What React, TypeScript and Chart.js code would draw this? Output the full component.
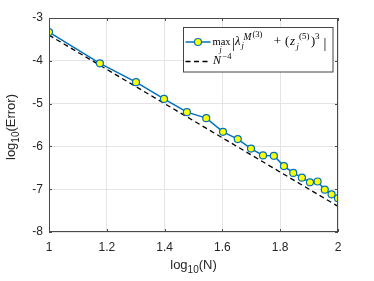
import React, { useEffect, useRef } from "react";
import { Chart, registerables } from "chart.js";

Chart.register(...registerables);

// ---- data ----
const N_VALUES = [10, 15, 20, 25, 30, 35, 40, 45, 50, 55, 60, 65, 70, 75, 80, 85, 90, 95, 100];
const ERROR_LOG10 = [
  -3.33, -4.06, -4.5, -4.89, -5.2, -5.34, -5.66, -5.83, -6.05, -6.21, -6.22, -6.46, -6.62, -6.73,
  -6.84, -6.82, -7.01, -7.12, -7.21,
];
const REF_X = [1, 2];
const REF_Y = [-3.4, -7.4];
const X_TICKS = [1, 1.2, 1.4, 1.6, 1.8, 2];
const Y_TICKS = [-8, -7, -6, -5, -4, -3];

const BLUE = "#0072bd";
const AXIS_COLOR = "#4a4a4a";
const GRID_COLOR = "#e4e4e4";
const SANS = "'Liberation Sans', Arial, sans-serif";
const SERIF = "'Liberation Serif', 'Times New Roman', serif";

type Piece = { t: string; x: number; dy: number; size: number; italic?: boolean };

const ROW1: Piece[] = [
  { t: "max", x: 212.5, dy: 0, size: 10.5 },
  { t: "j", x: 219.5, dy: 7.5, size: 8, italic: true },
  { t: "|", x: 232, dy: 3, size: 14.5 },
  { t: "λ", x: 235, dy: 0, size: 12.5, italic: true },
  { t: "j", x: 241.5, dy: 3.5, size: 8.5, italic: true },
  { t: "M", x: 243.5, dy: -5, size: 9.5, italic: true },
  { t: "(3)", x: 252.5, dy: -8, size: 8.5 },
  { t: "+", x: 273.5, dy: 0, size: 13.5 },
  { t: "(", x: 285, dy: 0, size: 12.5 },
  { t: "z", x: 290, dy: 0, size: 13, italic: true },
  { t: "j", x: 296.5, dy: 4, size: 8.5, italic: true },
  { t: "(5)", x: 299, dy: -6, size: 9 },
  { t: ")", x: 311, dy: 0, size: 12.5 },
  { t: "3", x: 315, dy: -6, size: 9 },
  { t: "|", x: 323.5, dy: 3, size: 14.5 },
];
const ROW2: Piece[] = [
  { t: "N", x: 213, dy: 0, size: 12, italic: true },
  { t: "−4", x: 222.5, dy: -5, size: 8.5 },
];

function drawPieces(ctx: CanvasRenderingContext2D, pieces: Piece[], base: number) {
  ctx.fillStyle = "#000";
  ctx.textAlign = "left";
  ctx.textBaseline = "alphabetic";
  for (const p of pieces) {
    ctx.font = `${p.italic ? "italic " : ""}${p.size}px ${SERIF}`;
    ctx.fillText(p.t, p.x, base + p.dy);
  }
}

function drawLogTitle(ctx: CanvasRenderingContext2D, rest: string, cx: number, base: number) {
  const main = `13px ${SANS}`;
  const sub = `10px ${SANS}`;
  ctx.font = main;
  const w1 = ctx.measureText("log").width;
  const w3 = ctx.measureText(rest).width;
  ctx.font = sub;
  const w2 = ctx.measureText("10").width;
  let x = cx - (w1 + w2 + w3) / 2;
  ctx.fillStyle = "#262626";
  ctx.textAlign = "left";
  ctx.textBaseline = "alphabetic";
  ctx.font = main;
  ctx.fillText("log", x, base);
  x += w1;
  ctx.font = sub;
  ctx.fillText("10", x, base + 4);
  x += w2;
  ctx.font = main;
  ctx.fillText(rest, x, base);
}

const decorPlugin = {
  id: "matlabDecor",
  afterDraw(chart: any) {
    const ctx: CanvasRenderingContext2D = chart.ctx;
    const a = chart.chartArea;
    const xs = chart.scales.x;
    const ys = chart.scales.y;
    ctx.save();
    // box
    ctx.strokeStyle = AXIS_COLOR;
    ctx.lineWidth = 1;
    ctx.setLineDash([]);
    ctx.strokeRect(a.left + 0.5, a.top + 0.5, a.right - a.left - 1, a.bottom - a.top - 1);
    // inner ticks
    const tl = 3;
    ctx.beginPath();
    for (const v of X_TICKS) {
      const px = Math.round(xs.getPixelForValue(v)) + 0.5;
      ctx.moveTo(px, a.bottom);
      ctx.lineTo(px, a.bottom - tl);
      ctx.moveTo(px, a.top);
      ctx.lineTo(px, a.top + tl);
    }
    for (const v of Y_TICKS) {
      const py = Math.round(ys.getPixelForValue(v)) + 0.5;
      ctx.moveTo(a.left, py);
      ctx.lineTo(a.left + tl, py);
      ctx.moveTo(a.right, py);
      ctx.lineTo(a.right - tl, py);
    }
    ctx.stroke();

    // legend
    const lx = 183.5, ly = 27.5, lw = 149.5, lh = 44.5;
    ctx.fillStyle = "#fff";
    ctx.fillRect(lx, ly, lw, lh);
    ctx.strokeStyle = "#444";
    ctx.lineWidth = 1;
    ctx.strokeRect(lx, ly, lw, lh);

    const d0 = chart.data.datasets[0];
    const d1 = chart.data.datasets[1];
    ctx.strokeStyle = d0.borderColor;
    ctx.lineWidth = d0.borderWidth;
    ctx.beginPath();
    ctx.moveTo(185.5, 42);
    ctx.lineTo(210.5, 42);
    ctx.stroke();
    ctx.beginPath();
    ctx.arc(198, 42, d0.pointRadius, 0, Math.PI * 2);
    ctx.fillStyle = d0.pointBackgroundColor;
    ctx.fill();
    ctx.lineWidth = d0.pointBorderWidth;
    ctx.strokeStyle = d0.pointBorderColor;
    ctx.stroke();

    ctx.strokeStyle = d1.borderColor;
    ctx.lineWidth = d1.borderWidth;
    ctx.setLineDash(d1.borderDash);
    ctx.beginPath();
    ctx.moveTo(185.5, 61.5);
    ctx.lineTo(210.5, 61.5);
    ctx.stroke();
    ctx.setLineDash([]);

    drawPieces(ctx, ROW1, 44.5);
    drawPieces(ctx, ROW2, 64);

    // axis titles
    drawLogTitle(ctx, "(N)", (a.left + a.right) / 2, 268.5);
    ctx.save();
    ctx.translate(15, 127);
    ctx.rotate(-Math.PI / 2);
    drawLogTitle(ctx, "(Error)", 0, 0);
    ctx.restore();

    ctx.restore();
  },
};

export default function App() {
  const ref = useRef<HTMLCanvasElement | null>(null);
  useEffect(() => {
    if (!ref.current) return;
    const chart = new Chart(ref.current, {
      type: "scatter",
      data: {
        datasets: [
          {
            label: "max_j |λ_j^{M^(3)} + (z_j^(5))^3|",
            data: N_VALUES.map((n, i) => ({ x: Math.log10(n), y: ERROR_LOG10[i] })),
            showLine: true,
            borderColor: BLUE,
            borderWidth: 1.5,
            pointRadius: 3.5,
            pointBackgroundColor: "#ffff00",
            pointBorderColor: BLUE,
            pointBorderWidth: 1.2,
          },
          {
            label: "N^-4",
            data: REF_X.map((x, i) => ({ x, y: REF_Y[i] })),
            showLine: true,
            borderColor: "#000",
            borderWidth: 1.3,
            borderDash: [5, 3.5],
            pointRadius: 0,
          },
        ],
      } as any,
      options: {
        animation: false,
        responsive: false,
        devicePixelRatio: 1,
        layout: { padding: { left: 0, top: 18, right: 36, bottom: 0 } },
        plugins: { legend: { display: false }, tooltip: { enabled: false } },
        scales: {
          x: {
            type: "linear",
            min: 1,
            max: 2,
            afterFit: (s: any) => {
              s.height = 49;
            },
            afterBuildTicks: (s: any) => {
              s.ticks = X_TICKS.map((v) => ({ value: v }));
            },
            ticks: {
              padding: 8,
              color: "#262626",
              font: { family: SANS, size: 12 },
              callback: (v: any) => String(Number(v)),
              maxRotation: 0,
              autoSkip: false,
            },
            grid: { color: GRID_COLOR, drawTicks: false },
            border: { display: false },
          },
          y: {
            type: "linear",
            min: -8,
            max: -3,
            afterFit: (s: any) => {
              s.width = 49;
            },
            afterBuildTicks: (s: any) => {
              s.ticks = Y_TICKS.map((v) => ({ value: v }));
            },
            ticks: {
              padding: 6,
              color: "#262626",
              font: { family: SANS, size: 12 },
              callback: (v: any) => String(Number(v)),
              autoSkip: false,
            },
            grid: { color: GRID_COLOR, drawTicks: false },
            border: { display: false },
          },
        },
      } as any,
      plugins: [decorPlugin],
    });
    return () => chart.destroy();
  }, []);
  return (
    <div style={{ position: "absolute", left: 0, top: 0, width: 374, height: 281, background: "#fff" }}>
      <canvas ref={ref} width={374} height={281} style={{ display: "block", width: 374, height: 281 }} />
    </div>
  );
}
